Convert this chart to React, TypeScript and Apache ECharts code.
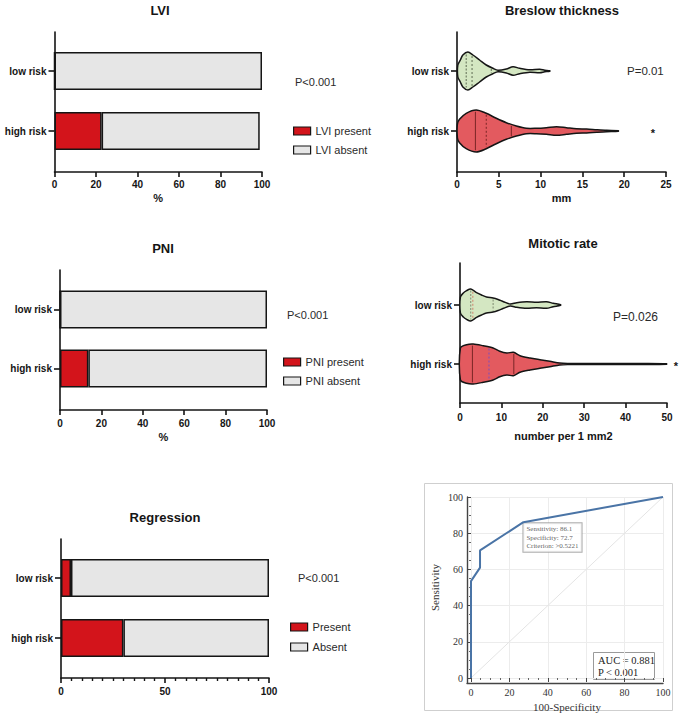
import React, { useEffect, useRef } from "react";
import * as echarts from "echarts";

// ---------- data ----------
const riskGroups = ["low risk", "high risk"];

// stacked percentages per risk group
const lviPresent = [0, 22.7];
const lviAbsent = [100, 76.2];
const pniPresent = [0, 13.7];
const pniAbsent = [100, 86.3];
const regressionPresent = [4.8, 30.0];
const regressionAbsent = [95.2, 70.0];

// violin density profiles (value along the axis, relative density)
const breslowLowX = [0.1, 0.4, 0.7, 1.3, 1.9, 2.7, 3.5, 4.3, 4.9, 5.9, 6.7, 7.5, 8.7, 9.9, 10.5, 11.1];
const breslowLowDensity = [0.3, 0.55, 0.8, 0.95, 0.8, 0.55, 0.3, 0.135, 0.04, 0.1, 0.215, 0.135, 0.06, 0.085, 0.04, 0.015];
const breslowHighX = [0.05, 0.3, 1.1, 2.3, 3.5, 4.7, 5.9, 7.1, 8.3, 9.5, 10.7, 11.9, 13.1, 14.3, 15.5, 16.7, 17.9, 19.3];
const breslowHighDensity = [0.35, 0.585, 0.885, 1.05, 0.885, 0.635, 0.415, 0.25, 0.135, 0.135, 0.165, 0.215, 0.165, 0.115, 0.1, 0.065, 0.035, 0.015];
const breslowQuartiles = [
  [1.1, 1.8, 4.1],
  [2.2, 3.5, 6.5],
];

const mitoticLowX = [0.1, 0.8, 1.6, 2.6, 4.0, 5.2, 6.4, 8.0, 9.2, 10.5, 12.1, 13.7, 16.1, 18.5, 20.9, 22.5, 24.3];
const mitoticLowDensity = [0.4, 0.6, 0.72, 0.8, 0.62, 0.5, 0.4, 0.35, 0.275, 0.165, 0.05, 0.115, 0.165, 0.135, 0.165, 0.085, 0.015];
const mitoticHighX = [0.1, 1.6, 3.2, 5.6, 8.0, 9.6, 11.3, 12.9, 14.5, 16.9, 19.3, 21.7, 24.1, 26, 30, 35, 40, 45, 49.9];
const mitoticHighDensity = [0.8, 0.965, 1.0, 0.915, 0.8, 0.635, 0.55, 0.585, 0.415, 0.3, 0.215, 0.135, 0.05, 0.03, 0.025, 0.03, 0.025, 0.03, 0.015];
const mitoticQuartiles = [
  [2.6, 3.1, 8.0],
  [3.0, 7.0, 13.0],
];

// ROC curve
const rocFalsePositive = [0, 0, 4.7, 4.7, 27.3, 100];
const rocSensitivity = [0, 53.5, 61.0, 70.5, 86.1, 100];
const cutSensitivity = 86.1;
const cutSpecificity = 72.7;
const cutCriterion = ">0.5221";
const rocAuc = 0.881;

const pValues = { lvi: "P<0.001", pni: "P<0.001", regression: "P<0.001", breslow: "P=0.01", mitotic: "P=0.026" };

// ---------- styling ----------
const SANS = "'Liberation Sans', Arial, sans-serif";
const SERIF = "'Liberation Serif', 'Times New Roman', serif";
const INK = "#151515";
const RED = "#d3141b";
const GRAY = "#e6e6e6";
const GREEN_FILL = "#d4e7c2";
const RED_FILL = "#e35a5f";
const VIOLIN_SCALE = 20;

const lineStyle = { color: INK, width: 1.6 };

function frameX(min: number, max: number, interval: number, name: string, nameGap: number, labelMargin: number, extra: any = {}) {
  return {
    type: "value",
    min,
    max,
    interval,
    axisLine: { show: true, lineStyle },
    axisTick: { show: true, length: 5, lineStyle },
    axisLabel: { margin: labelMargin, fontFamily: SANS, fontSize: 10, fontWeight: "bold", color: INK },
    splitLine: { show: false },
    name,
    nameLocation: "middle",
    nameGap,
    nameTextStyle: { fontFamily: SANS, fontSize: 11, fontWeight: "bold", color: INK },
    ...extra,
  };
}

function hiddenX(min: number, max: number) {
  return { type: "value", min, max, show: false };
}

function frameY() {
  return {
    type: "value",
    min: 0,
    max: 1,
    axisLine: { show: true, lineStyle },
    axisTick: { show: false },
    axisLabel: { show: false },
    splitLine: { show: false },
  };
}

function categoryY() {
  return {
    type: "category",
    data: riskGroups,
    inverse: true,
    axisLine: { show: false },
    axisTick: { show: true, alignWithLabel: true, length: 6, lineStyle },
    axisLabel: { margin: 8, fontFamily: SANS, fontSize: 10, fontWeight: "bold", color: INK },
    splitLine: { show: false },
  };
}

function barPair(idx: number, names: string[], present: number[], absent: number[]) {
  const edge = { borderColor: INK, borderWidth: 1.5 };
  return [
    {
      type: "bar",
      name: names[0],
      xAxisIndex: idx,
      yAxisIndex: idx,
      stack: "stack" + idx,
      barWidth: 38,
      data: present,
      itemStyle: { color: RED, ...edge },
    },
    {
      type: "bar",
      name: names[1],
      xAxisIndex: idx,
      yAxisIndex: idx,
      stack: "stack" + idx,
      barWidth: 38,
      data: absent,
      itemStyle: { color: GRAY, ...edge },
    },
  ];
}

function violinSeries(
  idx: number,
  xs: number[][],
  ds: number[][],
  quartiles: number[][],
  fills: string[],
  quartileColors: string[],
  medianColors: string[]
) {
  return {
    type: "custom",
    xAxisIndex: idx,
    yAxisIndex: idx,
    data: riskGroups.map((g, i) => [xs[i][xs[i].length - 1], g]),
    encode: { x: 0, y: 1 },
    renderItem: (params: any, api: any) => {
      const i = params.dataIndex;
      const px = xs[i];
      const pd = ds[i];
      const upper = px.map((x, k) => {
        const c = api.coord([x, i]);
        return [c[0], c[1] - pd[k] * VIOLIN_SCALE];
      });
      const lower = px
        .map((x, k) => {
          const c = api.coord([x, i]);
          return [c[0], c[1] + pd[k] * VIOLIN_SCALE];
        })
        .reverse();
      const widthAt = (v: number) => {
        for (let k = 0; k < px.length - 1; k++) {
          if (v >= px[k] && v <= px[k + 1]) {
            const t = (v - px[k]) / (px[k + 1] - px[k]);
            return pd[k] + t * (pd[k + 1] - pd[k]);
          }
        }
        return pd[0];
      };
      const lines = quartiles[i].map((q, k) => {
        const c = api.coord([q, i]);
        const h = Math.max(widthAt(q) * VIOLIN_SCALE - 1.5, 0);
        return {
          type: "line",
          shape: { x1: c[0], y1: c[1] - h, x2: c[0], y2: c[1] + h },
          style: {
            stroke: k === 1 ? medianColors[i] : quartileColors[i],
            lineWidth: 1,
            lineDash: k === 1 ? [2, 2] : i === 0 ? [2, 1.5] : undefined,
          },
        };
      });
      return {
        type: "group",
        children: [
          {
            type: "polygon",
            shape: { points: upper.concat(lower), smooth: 0.3 },
            style: { fill: fills[i], stroke: INK, lineWidth: 1.5 },
          },
          ...lines,
        ],
      };
    },
  };
}

function label(x: number, y: number, text: string, opts: any = {}) {
  return {
    type: "text",
    x,
    y,
    silent: true,
    style: {
      text,
      fontFamily: SANS,
      fontSize: 11,
      fill: "#2a2a2a",
      align: "left",
      verticalAlign: "middle",
      ...opts,
    },
  };
}

function title(x: number, y: number, text: string) {
  return label(x, y, text, { fontSize: 13, fontWeight: "bold", fill: INK, align: "center" });
}

const legendCommon = {
  orient: "vertical",
  icon: "rect",
  itemWidth: 17,
  itemHeight: 8,
  itemGap: 7,
  padding: 0,
  selectedMode: false,
  itemStyle: { borderColor: INK, borderWidth: 1.2 },
  textStyle: { fontFamily: SANS, fontSize: 11, lineHeight: 12, color: "#2a2a2a" },
};

export default function App() {
  const ref = useRef<HTMLDivElement>(null);

  useEffect(() => {
    if (!ref.current) return;
    const chart = echarts.init(ref.current, undefined, { renderer: "svg" });

    const option: any = {
      animation: false,
      backgroundColor: "#ffffff",
      grid: [
        { left: 54.5, top: 32, width: 207.5, height: 140 },
        { left: 54.5, top: 41, width: 207.5, height: 120 },
        { left: 60, top: 270, width: 207, height: 140 },
        { left: 60, top: 280, width: 207, height: 118 },
        { left: 61, top: 539, width: 208, height: 139 },
        { left: 61, top: 548, width: 208, height: 120 },
        { left: 457, top: 32, width: 209, height: 140 },
        { left: 457, top: 41, width: 209, height: 120 },
        { left: 460, top: 263, width: 207, height: 140 },
        { left: 460, top: 275.5, width: 207, height: 118 },
        { left: 467, top: 497, width: 196, height: 186 },
        { left: 471, top: 497, width: 192, height: 181 },
      ].map((g) => ({ ...g, containLabel: false })),
      xAxis: [
        { gridIndex: 0, ...frameX(0, 100, 20, "%", 20, 7) },
        { gridIndex: 1, ...hiddenX(0, 100) },
        { gridIndex: 2, ...frameX(0, 100, 20, "%", 21, 8) },
        { gridIndex: 3, ...hiddenX(0, 100) },
        {
          gridIndex: 4,
          ...frameX(0, 100, 50, "", 20, 8, {
            minorTick: { show: true, splitNumber: 10, length: 3, lineStyle: { color: INK, width: 1.4 } },
          }),
        },
        { gridIndex: 5, ...hiddenX(0, 100) },
        { gridIndex: 6, ...frameX(0, 25, 5, "mm", 20, 7) },
        { gridIndex: 7, ...hiddenX(0, 25) },
        { gridIndex: 8, ...frameX(0, 50, 10, "number per 1 mm2", 27, 9) },
        { gridIndex: 9, ...hiddenX(0, 50) },
        {
          gridIndex: 10,
          type: "value",
          min: 0,
          max: 1,
          axisLine: { show: true, lineStyle: { color: "#444", width: 1.4 } },
          axisTick: { show: false },
          axisLabel: { show: false },
          splitLine: { show: false },
        },
        {
          gridIndex: 11,
          type: "value",
          min: 0,
          max: 100,
          interval: 20,
          offset: 5,
          axisLine: { show: false },
          axisTick: { show: true, length: 4, lineStyle: { color: "#444", width: 1 } },
          minorTick: { show: true, splitNumber: 4, length: 2, lineStyle: { color: "#666", width: 1 } },
          axisLabel: { margin: 4, fontFamily: SERIF, fontSize: 10, color: "#333" },
          splitLine: { show: true, lineStyle: { color: "#ececec", width: 1 } },
          name: "100-Specificity",
          nameLocation: "middle",
          nameGap: 18,
          nameTextStyle: { fontFamily: SERIF, fontSize: 11, color: "#333" },
        },
      ],
      yAxis: [
        { gridIndex: 0, ...frameY() },
        { gridIndex: 1, ...categoryY() },
        { gridIndex: 2, ...frameY() },
        { gridIndex: 3, ...categoryY() },
        { gridIndex: 4, ...frameY() },
        { gridIndex: 5, ...categoryY() },
        { gridIndex: 6, ...frameY() },
        { gridIndex: 7, ...categoryY() },
        { gridIndex: 8, ...frameY() },
        { gridIndex: 9, ...categoryY() },
        {
          gridIndex: 10,
          type: "value",
          min: 0,
          max: 1,
          axisLine: { show: true, lineStyle: { color: "#444", width: 1.4 } },
          axisTick: { show: false },
          axisLabel: { show: false },
          splitLine: { show: false },
        },
        {
          gridIndex: 11,
          type: "value",
          min: 0,
          max: 100,
          interval: 20,
          offset: 4,
          axisLine: { show: false },
          axisTick: { show: true, length: 4, lineStyle: { color: "#444", width: 1 } },
          minorTick: { show: true, splitNumber: 4, length: 2, lineStyle: { color: "#666", width: 1 } },
          axisLabel: { margin: 4, fontFamily: SERIF, fontSize: 10, color: "#333" },
          splitLine: { show: true, lineStyle: { color: "#ececec", width: 1 } },
          name: "Sensitivity",
          nameLocation: "middle",
          nameGap: 27,
          nameRotate: 90,
          nameTextStyle: { fontFamily: SERIF, fontSize: 11, color: "#333" },
        },
      ],
      legend: [
        { ...legendCommon, data: ["LVI present", "LVI absent"], left: 293, top: 125 },
        { ...legendCommon, data: ["PNI present", "PNI absent"], left: 283, top: 356 },
        { ...legendCommon, data: ["Present", "Absent"], left: 290, top: 621, itemGap: 8 },
      ],
      series: [
        ...barPair(1, ["LVI present", "LVI absent"], lviPresent, lviAbsent),
        ...barPair(3, ["PNI present", "PNI absent"], pniPresent, pniAbsent),
        ...barPair(5, ["Present", "Absent"], regressionPresent, regressionAbsent),
        violinSeries(
          7,
          [breslowLowX, breslowHighX],
          [breslowLowDensity, breslowHighDensity],
          breslowQuartiles,
          [GREEN_FILL, RED_FILL],
          ["#5d6b52", "#7a2626"],
          ["#5d6b52", "#7a2626"]
        ),
        violinSeries(
          9,
          [mitoticLowX, mitoticHighX],
          [mitoticLowDensity, mitoticHighDensity],
          mitoticQuartiles,
          [GREEN_FILL, RED_FILL],
          ["#7d8a70", "#7a2626"],
          ["#d0806a", "#7a4fc0"]
        ),
        {
          type: "line",
          xAxisIndex: 11,
          yAxisIndex: 11,
          data: [
            [0, 0],
            [100, 100],
          ],
          showSymbol: false,
          silent: true,
          lineStyle: { color: "#e4e4e4", width: 1 },
        },
        {
          type: "line",
          xAxisIndex: 11,
          yAxisIndex: 11,
          data: rocFalsePositive.map((x, i) => [x, rocSensitivity[i]]),
          showSymbol: false,
          silent: true,
          lineStyle: { color: "#4a74a6", width: 2 },
        },
        {
          type: "scatter",
          xAxisIndex: 11,
          yAxisIndex: 11,
          data: [[100 - cutSpecificity, cutSensitivity]],
          symbolSize: 0,
          silent: true,
          label: {
            show: true,
            position: [0, 1],
            formatter: () =>
              `Sensitivity: ${cutSensitivity.toFixed(1)}\nSpecificity: ${cutSpecificity.toFixed(1)}\nCriterion: ${cutCriterion}`,
            fontFamily: SERIF,
            fontSize: 7,
            lineHeight: 8.5,
            color: "#333",
            backgroundColor: "#ffffff",
            borderColor: "#9a9a9a",
            borderWidth: 1,
            padding: [2, 3, 1, 3],
          },
        },
      ],
      graphic: [
        title(160, 10, "LVI"),
        title(163, 248, "PNI"),
        title(165, 517, "Regression"),
        title(562, 10, "Breslow thickness"),
        title(563, 243, "Mitotic rate"),
        label(295, 82, pValues.lvi),
        label(287, 315, pValues.pni),
        label(298, 578, pValues.regression),
        label(627, 71, pValues.breslow, { fontSize: 11.5 }),
        label(613, 317, pValues.mitotic, { fontSize: 12 }),
        label(653, 133, "*", { fontSize: 11, fontWeight: "bold", fill: INK, align: "center" }),
        label(676, 366, "*", { fontSize: 11, fontWeight: "bold", fill: INK, align: "center" }),
        {
          type: "rect",
          silent: true,
          shape: { x: 424.5, y: 483.5, width: 248, height: 227 },
          style: { fill: "none", stroke: "#cfcfcf", lineWidth: 1 },
        },
        {
          type: "rect",
          silent: true,
          shape: { x: 593.5, y: 652.5, width: 61, height: 27 },
          style: { fill: "#ffffff", stroke: "#9a9a9a", lineWidth: 1 },
        },
        label(598, 660, `AUC = ${rocAuc.toFixed(3)}`, { fontFamily: SERIF, fontSize: 10.5, fill: "#222" }),
        label(598, 672, "P < 0.001", { fontFamily: SERIF, fontSize: 10.5, fill: "#222" }),
      ],
    };

    chart.setOption(option);
    return () => chart.dispose();
  }, []);

  return (
    <div
      ref={ref}
      style={{ position: "absolute", left: 0, top: 0, width: 682, height: 714, background: "#fff" }}
    />
  );
}
